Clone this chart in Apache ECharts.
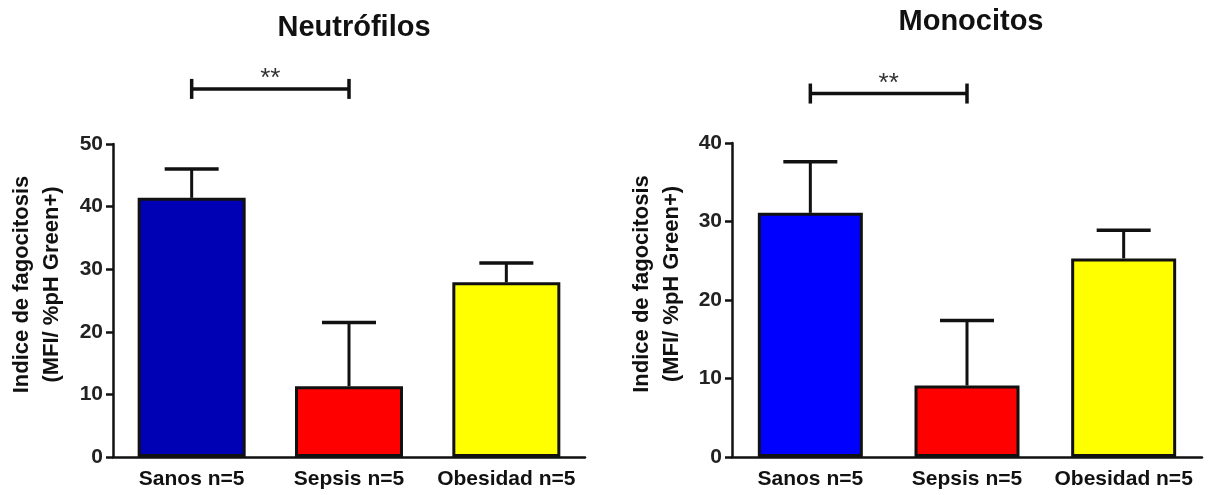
<!DOCTYPE html>
<html>
<head>
<meta charset="utf-8">
<script src="https://cdn.jsdelivr.net/npm/echarts@6/dist/echarts.min.js"></script>
<style>
  html, body { margin: 0; padding: 0; background: #ffffff; }
  #chart { width: 1209px; height: 495px; }
</style>
</head>
<body>
<div id="chart"></div>
<script>
// Groups shown on both panels
const categories = ['Sanos n=5', 'Sepsis n=5', 'Obesidad n=5'];

// Neutrophils: mean phagocytosis index and error (upper whisker length)
const neutroMean = [41.4, 11.3, 27.9];
const neutroErr = [4.6, 10.2, 3.1];

// Monocytes: mean phagocytosis index and error
const monoMean = [31.1, 9.1, 25.3];
const monoErr = [6.5, 8.3, 3.6];

// Y axis ticks
const neutroTicks = [0, 10, 20, 30, 40, 50];
const monoTicks = [0, 10, 20, 30, 40];

// Significance brackets: [from category, to category, height in axis units]
const neutroBracket = [[0, 1, 58.8]];
const monoBracket = [[0, 1, 46.3]];
const sigLabel = '**';

const titles = ['Neutrófilos', 'Monocitos'];
const yName = 'Indice de fagocitosis\n(MFI/ %pH Green+)';

const neutroColors = ['#0000b4', '#ff0000', '#ffff00'];
const monoColors = ['#0000ff', '#ff0000', '#ffff00'];

const FONT = 'Liberation Sans, Arial, sans-serif';
const INK = '#111111';

function yAxisFor(ticks, gridIndex, gap) {
  return {
    type: 'value', gridIndex,
    min: ticks[0], max: ticks[ticks.length - 1], interval: ticks[1] - ticks[0],
    name: yName, nameLocation: 'middle', nameGap: gap, nameRotate: 90,
    nameTextStyle: { fontFamily: FONT, fontWeight: 'bold', fontSize: 22, color: INK,
                     lineHeight: 30, padding: [0, 0, 0, 32] },
    axisLine: { show: true, lineStyle: { color: INK, width: 2.5 } },
    axisTick: { show: true, length: 7, lineStyle: { color: INK, width: 2.5 } },
    axisLabel: { fontFamily: FONT, fontWeight: 'bold', fontSize: 21, color: '#222', margin: 10 },
    splitLine: { show: false }
  };
}

function xAxisFor(gridIndex) {
  return {
    type: 'category', gridIndex, data: categories,
    axisLine: { lineStyle: { color: INK, width: 2.5 } },
    axisTick: { alignWithLabel: true, length: 8, lineStyle: { color: INK, width: 2.5 } },
    axisLabel: { interval: 0, hideOverlap: false, fontFamily: FONT, fontWeight: 'bold',
                 fontSize: 21, color: INK, margin: 12 }
  };
}

function barSeries(means, colors, idx, width) {
  return {
    type: 'bar', xAxisIndex: idx, yAxisIndex: idx, barWidth: width, z: 3,
    data: means.map((v, i) => ({ value: v, itemStyle: { color: colors[i] } })),
    itemStyle: { borderColor: INK, borderWidth: 3 }
  };
}

function errorSeries(means, errs, idx) {
  return {
    type: 'custom', xAxisIndex: idx, yAxisIndex: idx, z: 2,
    data: means.map((m, i) => [i, m, m + errs[i]]),
    encode: { x: 0, y: [1, 2] },
    renderItem: function (params, api) {
      const base = api.coord([api.value(0), api.value(1)]);
      const top = api.coord([api.value(0), api.value(2)]);
      const half = 27;
      return {
        type: 'group',
        children: [
          { type: 'line', shape: { x1: base[0], y1: base[1], x2: top[0], y2: top[1] },
            style: { stroke: INK, lineWidth: 3 } },
          { type: 'line', shape: { x1: top[0] - half, y1: top[1], x2: top[0] + half, y2: top[1] },
            style: { stroke: INK, lineWidth: 3.5 } }
        ]
      };
    }
  };
}

function bracketSeries(bracket, idx) {
  return {
    type: 'custom', xAxisIndex: idx, yAxisIndex: idx, clip: false, z: 5,
    data: bracket,
    encode: { x: [0, 1], y: 2 },
    renderItem: function (params, api) {
      const a = api.coord([api.value(0), api.value(2)]);
      const b = api.coord([api.value(1), api.value(2)]);
      const h = 10;
      return {
        type: 'group',
        children: [
          { type: 'line', shape: { x1: a[0], y1: a[1], x2: b[0], y2: b[1] }, style: { stroke: INK, lineWidth: 3.5 } },
          { type: 'line', shape: { x1: a[0], y1: a[1] - h, x2: a[0], y2: a[1] + h }, style: { stroke: INK, lineWidth: 3.5 } },
          { type: 'line', shape: { x1: b[0], y1: b[1] - h, x2: b[0], y2: b[1] + h }, style: { stroke: INK, lineWidth: 3.5 } },
          { type: 'text', x: (a[0] + b[0]) / 2, y: a[1] - 10,
            style: { text: sigLabel, fill: '#333', font: '26px ' + FONT, textAlign: 'center', textVerticalAlign: 'middle' } }
        ]
      };
    }
  };
}

const chart = echarts.init(document.getElementById('chart'), null, { renderer: 'canvas' });
chart.setOption({
  backgroundColor: '#ffffff',
  animation: false,
  title: [
    { text: titles[0], left: 349, top: 8, textAlign: 'center',
      textStyle: { fontFamily: FONT, fontWeight: 'bold', fontSize: 29, color: INK } },
    { text: titles[1], left: 966, top: 2, textAlign: 'center',
      textStyle: { fontFamily: FONT, fontWeight: 'bold', fontSize: 29, color: INK } }
  ],
  grid: [
    { left: 113, right: 624, top: 144, bottom: 38 },
    { left: 732, right: 7, top: 143, bottom: 38 }
  ],
  xAxis: [xAxisFor(0), xAxisFor(1)],
  yAxis: [yAxisFor(neutroTicks, 0, 46), yAxisFor(monoTicks, 1, 45)],
  series: [
    barSeries(neutroMean, neutroColors, 0, 108),
    errorSeries(neutroMean, neutroErr, 0),
    bracketSeries(neutroBracket, 0),
    barSeries(monoMean, monoColors, 1, 105),
    errorSeries(monoMean, monoErr, 1),
    bracketSeries(monoBracket, 1)
  ]
});
</script>
</body>
</html>
